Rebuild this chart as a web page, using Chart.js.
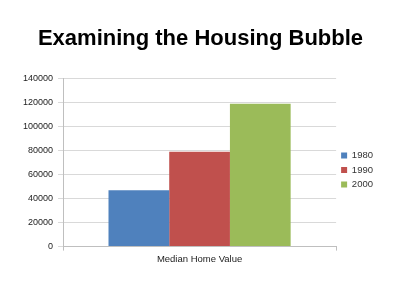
<!DOCTYPE html>
<html lang="en">
<head>
    <meta charset="UTF-8">
    <title>Examining the Housing Bubble</title>
    <script src="https://cdn.jsdelivr.net/npm/chart.js"></script>
    <style>
        html, body { margin: 0; padding: 0; background: #fff; }
        #wrap { width: 400px; height: 300px; }
    </style>
</head>
<body>
    <div id="wrap"><canvas id="housingChart"></canvas></div>

    <script>
        // Datos
        const categories = ['Median Home Value'];
        const years = ['1980', '1990', '2000'];
        const homeValues = [47000, 79000, 119000];
        const barColors = ['#4F81BD', '#C0504D', '#9BBB59'];
        const yTicks = [0, 20000, 40000, 60000, 80000, 100000, 120000, 140000];

        const ctx = document.getElementById('housingChart');
        new Chart(ctx, {
            type: 'bar',
            data: {
                labels: categories,
                datasets: years.map((y, i) => ({
                    label: y,
                    data: [homeValues[i]],
                    backgroundColor: barColors[i],
                    categoryPercentage: 0.667,
                    barPercentage: 1
                }))
            },
            options: {
                responsive: true,
                maintainAspectRatio: false,
                animation: false,
                layout: { padding: { left: 18, right: 17, bottom: 32 } },
                plugins: {
                    title: {
                        display: true,
                        text: 'Examining the Housing Bubble',
                        color: '#000',
                        font: { family: 'Liberation Sans', size: 22, weight: 'bold' },
                        padding: { top: 26, bottom: 26 }
                    },
                    legend: {
                        position: 'right',
                        fullSize: false,
                        title: { display: true, text: ' ', font: { size: 9 }, padding: 2 },
                        labels: {
                            boxWidth: 6,
                            boxHeight: 6,
                            padding: 5,
                            color: '#333',
                            font: { family: 'Liberation Sans', size: 9.5 }
                        }
                    },
                    tooltip: { enabled: false }
                },
                scales: {
                    x: {
                        grid: { display: true, drawOnChartArea: false, offset: true, tickLength: 4, color: '#bfbfbf' },
                        border: { color: '#bfbfbf' },
                        ticks: { color: '#222', padding: 3, font: { family: 'Liberation Sans', size: 9.5 } }
                    },
                    y: {
                        min: 0,
                        max: 140000,
                        afterBuildTicks: axis => { axis.ticks = yTicks.map(v => ({ value: v })); },
                        grid: { color: '#d9d9d9', tickLength: 5 },
                        border: { color: '#bfbfbf' },
                        ticks: {
                            color: '#222',
                            padding: 5,
                            font: { family: 'Liberation Sans', size: 9 },
                            callback: v => String(v)
                        }
                    }
                }
            }
        });
    </script>
</body>
</html>
